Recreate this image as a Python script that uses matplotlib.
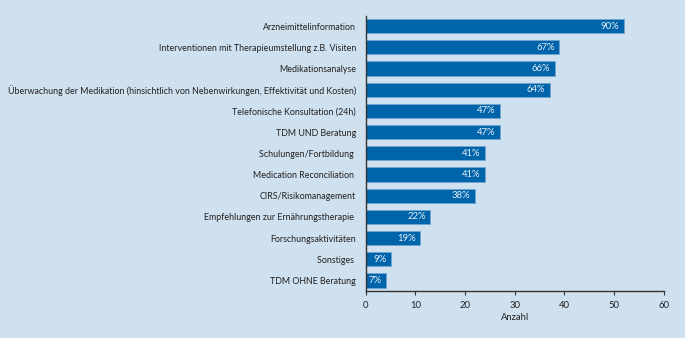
import matplotlib
matplotlib.use("Agg")
import matplotlib.pyplot as plt
import numpy as np

categories = [
    "Arzneimittelinformation",
    "Interventionen mit Therapieumstellung z.B. Visiten",
    "Medikationsanalyse",
    "Überwachung der Medikation (hinsichtlich von Nebenwirkungen, Effektivität und Kosten)",
    "Telefonische Konsultation (24h)",
    "TDM UND Beratung",
    "Schulungen/Fortbildung ",
    "Medication Reconciliation ",
    "CIRS/Risikomanagement",
    "Empfehlungen zur Ernährungstherapie ",
    "Forschungsaktivitäten",
    "Sonstiges ",
    "TDM OHNE Beratung",
]
counts = [52, 39, 38, 37, 27, 27, 24, 24, 22, 13, 11, 5, 4]
percent_labels = ["90%", "67%", "66%", "64%", "47%", "47%", "41%", "41%", "38%", "22%", "19%", "9%", "7%"]
xticks = [0, 10, 20, 30, 40, 50, 60]

bg = "#cfe0ee"
bar_color = "#0064aa"

plt.rcParams['font.family'] = ['Lato', 'DejaVu Sans']

fig = plt.figure(figsize=(6.85, 3.38), dpi=100)
fig.patch.set_facecolor(bg)
ax = fig.add_axes([0.534, 0.139, 0.435, 0.815])
ax.set_facecolor(bg)

y = np.arange(len(categories))
ax.barh(y, counts, height=0.67, color=bar_color, edgecolor="#6fa6d2", linewidth=0.6)
for yi, c, lab in zip(y, counts, percent_labels):
    ax.text(c - 0.9, yi, lab, ha="right", va="center", color="#e8f0f8", fontsize=6.8)

ax.set_ylim(len(categories) - 0.5, -0.5)
ax.set_yticks(y)
ax.set_yticklabels(categories, fontsize=6.4, color="#222222")
ax.tick_params(axis="y", length=0, pad=7)

ax.set_xlim(0, 60)
ax.set_xticks(xticks)
ax.set_xticklabels([str(t) for t in xticks], fontsize=6.8, color="#222222")
ax.tick_params(axis="x", length=3, width=0.8, color="#333333", pad=4)
ax.set_xlabel("Anzahl", fontsize=6.8, color="#222222", labelpad=2)

for s in ["top", "right"]:
    ax.spines[s].set_visible(False)
for s in ["left", "bottom"]:
    ax.spines[s].set_color("#333333")
    ax.spines[s].set_linewidth(1.0)

fig.savefig("out.png", dpi=100, facecolor=bg)
